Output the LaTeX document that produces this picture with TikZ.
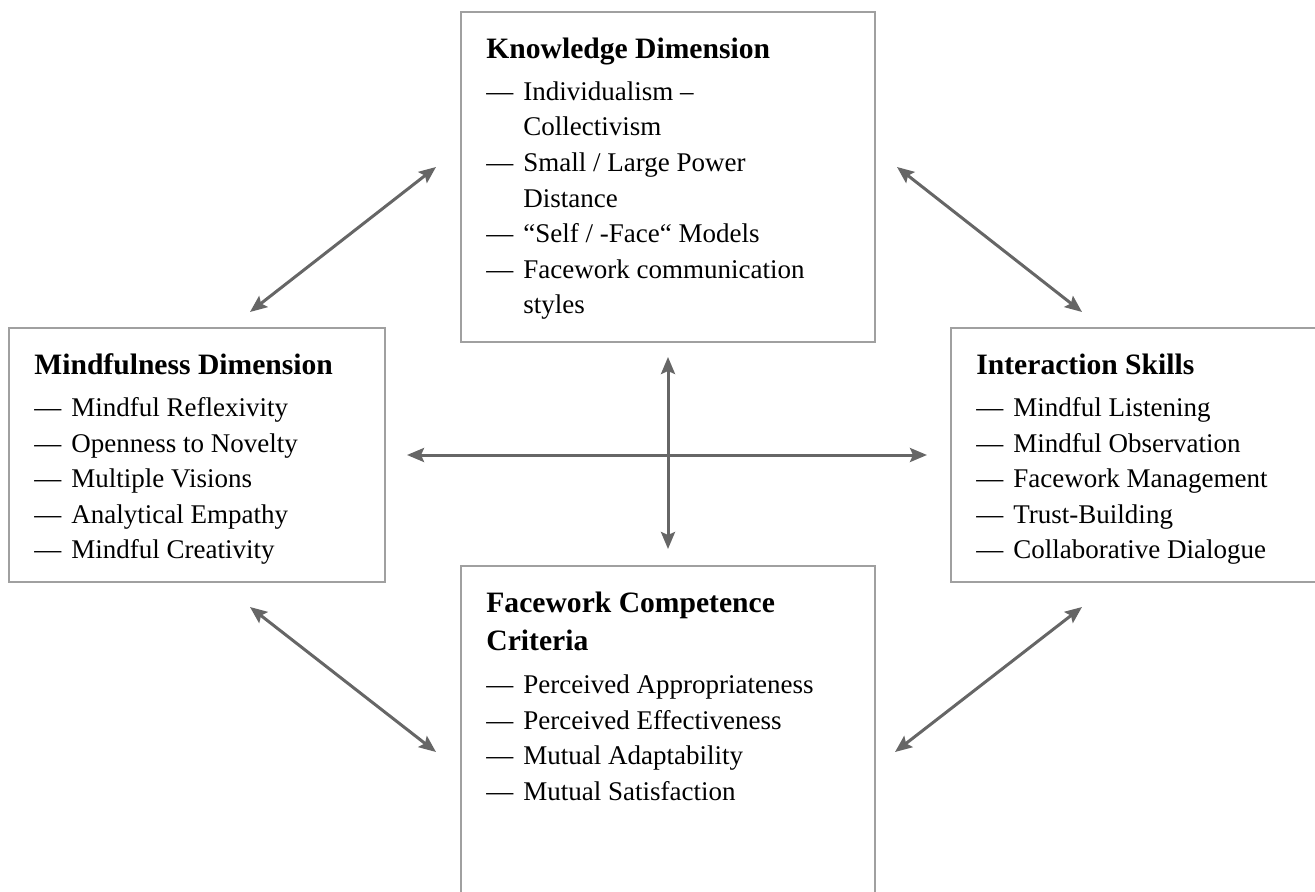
\documentclass[tikz,border=0pt]{standalone}
\usepackage{fontspec}
\setmainfont{Liberation Serif}
\usetikzlibrary{arrows.meta, calc}

\definecolor{arrowgray}{HTML}{666666}
\definecolor{framegray}{HTML}{A0A0A0}

\newcommand{\dimhead}[1]{\rule{0pt}{23pt}{\fontsize{14.8}{19}\selectfont\bfseries #1}}
\newcommand{\dimheadcont}[1]{{\fontsize{14.8}{19}\selectfont\bfseries #1}}
\newcommand{\dimitem}[1]{\makebox[18.5pt][l]{—}#1}
\newcommand{\dimcont}[1]{\hspace*{18.5pt}#1}

\begin{document}
\begin{tikzpicture}[
        x=0.5pt, y=-0.5pt,
        dim-box/.style={
            draw=framegray,
            line width=1pt,
            anchor=north west,
            inner sep=0pt,
            outer sep=0pt,
        },
        dim-text/.style={
            anchor=north west,
            align=left,
            inner sep=0pt,
            font=\fontsize{13.5}{17.8}\selectfont,
        },
        link/.style={
            draw=arrowgray,
            line width=1.5pt,
            {Stealth[length=8.5pt, width=7pt, inset=1.5pt]}-{Stealth[length=8.5pt, width=7pt, inset=1.5pt]},
        },
    ]
    \useasboundingbox (0, 0) rectangle (1315, 892);

    % boxes
    \node[dim-box, minimum width=207pt, minimum height=165pt] (know) at (461, 12) {};
    \node[dim-box, minimum width=188pt, minimum height=127pt] (mind) at (9, 328) {};
    \node[dim-box, minimum width=190pt, minimum height=127pt] (inter) at (951, 328) {};
    \node[dim-box, minimum width=207pt, minimum height=170pt] (face) at (461, 566) {};

    \node[dim-text] (know-text) at ($(know.north west)+(25, 0)$) {
        \dimhead{Knowledge Dimension}\\[3.2pt]
        \dimitem{Individualism –}\\
        \dimcont{Collectivism}\\
        \dimitem{Small / Large Power}\\
        \dimcont{Distance}\\
        \dimitem{“Self / -Face“ Models}\\
        \dimitem{Facework communication}\\
        \dimcont{styles}
    };

    \node[dim-text] (mind-text) at ($(mind.north west)+(25, 0)$) {
        \dimhead{Mindfulness Dimension}\\[3.2pt]
        \dimitem{Mindful Reflexivity}\\
        \dimitem{Openness to Novelty}\\
        \dimitem{Multiple Visions}\\
        \dimitem{Analytical Empathy}\\
        \dimitem{Mindful Creativity}
    };

    \node[dim-text] (inter-text) at ($(inter.north west)+(25, 0)$) {
        \dimhead{Interaction Skills}\\[3.2pt]
        \dimitem{Mindful Listening}\\
        \dimitem{Mindful Observation}\\
        \dimitem{Facework Management}\\
        \dimitem{Trust-Building}\\
        \dimitem{Collaborative Dialogue}
    };

    \node[dim-text] (face-text) at ($(face.north west)+(25, 0)$) {
        \dimhead{Facework Competence}\\[1.2pt]
        \dimheadcont{Criteria}\\[3.7pt]
        \dimitem{Perceived Appropriateness}\\
        \dimitem{Perceived Effectiveness}\\
        \dimitem{Mutual Adaptability}\\
        \dimitem{Mutual Satisfaction}
    };

    % diagonal arrow ends
    \coordinate (mind-up) at (250, 312);
    \coordinate (know-left) at (436, 167);
    \coordinate (know-right) at (897, 167);
    \coordinate (inter-up) at (1082, 312);
    \coordinate (mind-down) at (250, 607);
    \coordinate (face-left) at (436, 752);
    \coordinate (face-right) at (895, 752);
    \coordinate (inter-down) at (1082, 607);

    \draw[link] (mind-up) -- (know-left);
    \draw[link] (know-right) -- (inter-up);
    \draw[link] (mind-down) -- (face-left);
    \draw[link] (face-right) -- (inter-down);

    \draw[link, shorten <=11pt, shorten >=12pt] (mind.east) -- (inter.west);
    \draw[link, shorten <=7.5pt, shorten >=8.5pt] (know.south) -- (face.north);
\end{tikzpicture}
\end{document}
